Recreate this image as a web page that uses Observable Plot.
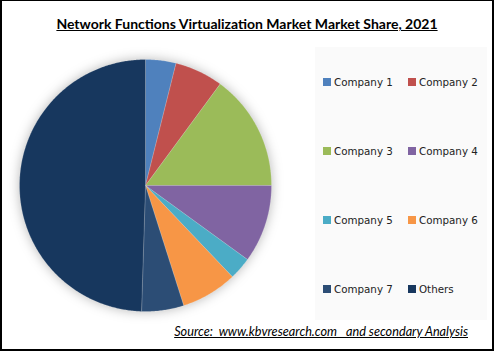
<!DOCTYPE html>
<html><head><meta charset="utf-8">
<script src="https://cdn.jsdelivr.net/npm/d3@7"></script>
<script src="https://cdn.jsdelivr.net/npm/@observablehq/plot@0.6"></script>
<style>
html,body{margin:0;padding:0;background:#fff;}
#wrap{position:relative;width:494px;height:351px;overflow:hidden;background:#fff;}
#wrap svg{position:absolute;left:0;top:0;}
#border{position:absolute;left:0;top:0;width:494px;height:351px;box-sizing:border-box;border-style:solid;border-color:#000;border-width:1px 2px 2px 2px;pointer-events:none;}
#title{position:absolute;left:0;width:494px;top:17px;text-align:center;font-family:Lato,"Open Sans",sans-serif;font-weight:bold;font-size:14px;line-height:1;text-decoration:underline;color:#000;white-space:pre;}
#source{position:absolute;right:26px;top:325px;font-family:Lato,"Open Sans",sans-serif;font-style:italic;font-size:12.7px;line-height:1;text-decoration:underline;color:#000;white-space:pre;}
#legendbox{position:absolute;left:315px;top:47px;width:172px;height:273px;background:#FAFAFA;}
.item{position:absolute;height:12px;display:flex;align-items:center;font-family:"DejaVu Sans",Verdana,sans-serif;font-size:10.3px;color:#222;white-space:pre;}
.sw{width:8px;height:8px;margin-right:3px;flex:none;}
</style>
</head><body>
<div id="wrap">
  <div id="legendbox"></div>
  <div id="title"></div>
  <div id="source"></div>
  <div id="border"></div>
</div>
<script>
const companies = ["Company 1","Company 2","Company 3","Company 4","Company 5","Company 6","Company 7","Others"];
const shares = [3.9, 6.2, 14.9, 10.0, 2.9, 7.2, 5.4, 49.5];
const colors = ["#4F81BD","#C0504D","#9BBB59","#8064A2","#4BACC6","#F79646","#2C4D75","#17375E"];
const titleText = "Network Functions Virtualization Market Market Share, 2021";
const sourceText = "Source:  www.kbvresearch.com   and secondary Analysis";

// slice outlines derived from the shares (clockwise from 12 o'clock)
const total = d3.sum(shares);
const pts = [];
let acc = 0;
companies.forEach((c, i) => {
  const a0 = acc / total * 2 * Math.PI;
  const a1 = (acc + shares[i]) / total * 2 * Math.PI;
  acc += shares[i];
  pts.push({name: c, x: 0, y: 0});
  const n = Math.max(2, Math.ceil((a1 - a0) / 0.01));
  for (let k = 0; k <= n; k++) {
    const a = a0 + (a1 - a0) * k / n;
    pts.push({name: c, x: Math.sin(a), y: Math.cos(a)});
  }
  pts.push({name: c, x: 0, y: 0});
});

const W = 494, H = 351, cx = 145, cy = 185, R = 126;
const chart = Plot.plot({
  width: W, height: H,
  margin: 0,
  x: {domain: [-cx / R, (W - cx) / R], axis: null},
  y: {domain: [(cy - H) / R, cy / R], axis: null},
  color: {domain: companies, range: colors},
  marks: [
    Plot.line(pts, {x: "x", y: "y", z: "name", fill: "name", stroke: "#ffffff", strokeOpacity: 0.28, strokeWidth: 0.6, curve: "linear"})
  ]
});
chart.style.background = "transparent";
const wrap = document.getElementById("wrap");
wrap.insertBefore(chart, document.getElementById("title"));
const g = chart.querySelector('g[aria-label="line"]');
if (g) g.style.filter = "drop-shadow(0px 0px 6px rgba(0,0,0,0.28))";

document.getElementById("title").textContent = titleText;
document.getElementById("source").textContent = sourceText;

const box = document.getElementById("legendbox");
companies.forEach((c, i) => {
  const col = i % 2, row = Math.floor(i / 2);
  const it = document.createElement("div");
  it.className = "item";
  it.style.left = (col === 0 ? 8 : 93) + "px";
  it.style.top = (34.7 + row * 69 - 6) + "px";
  const sw = document.createElement("div");
  sw.className = "sw";
  sw.style.background = colors[i];
  it.appendChild(sw);
  it.appendChild(document.createTextNode(c));
  box.appendChild(it);
});
</script>
</body></html>
